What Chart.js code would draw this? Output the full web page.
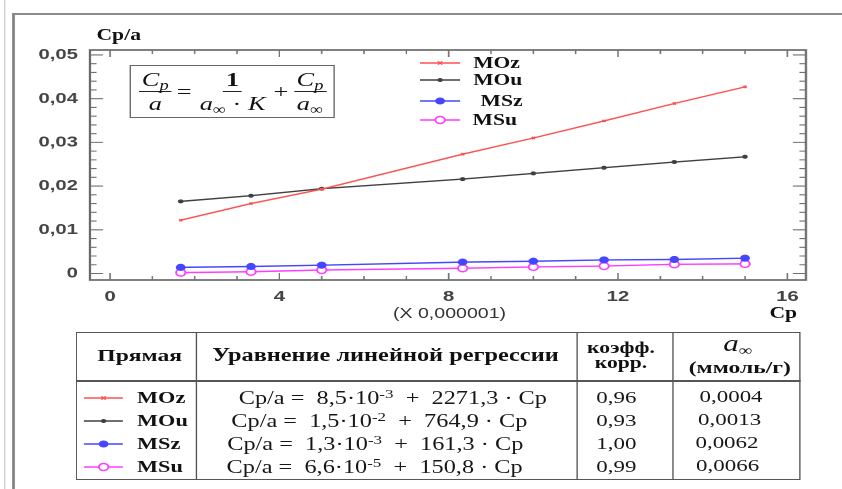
<!DOCTYPE html>
<html><head><meta charset="utf-8">
<script src="https://cdn.jsdelivr.net/npm/chart.js@4.4.1/dist/chart.umd.min.js"></script>
<style>
html,body{margin:0;padding:0;background:#fff;width:842px;height:489px;overflow:hidden}
#wrap{position:absolute;left:0;top:0;width:624px;height:489px;transform:scaleX(1.35);transform-origin:0 0}
#c{position:absolute;left:0;top:0}
.abs{position:absolute;white-space:pre}
.serifb{font-family:"Liberation Serif","Times New Roman",serif;font-weight:bold;color:#111}
.serif{font-family:"Liberation Serif","Times New Roman",serif;color:#161616}
.sans{font-family:"Liberation Sans",Arial,sans-serif;color:#333}
#formula{position:absolute;left:96.3px;top:65px;width:150px;height:51px;border:1.6px solid #666;display:flex;align-items:center;justify-content:center;font-family:"Liberation Serif","Times New Roman",serif;font-size:19.5px;color:#111}
.frac{display:inline-flex;flex-direction:column;align-items:center;line-height:1.08}
.frac .num{border-bottom:1.4px solid #222;padding:0 2px 1px 2px}
.frac .den{padding:1px 2px 0 2px}
.op{margin:0 4px}
sub{font-size:0.7em;vertical-align:-0.3em;line-height:0}
sup{font-size:0.7em;vertical-align:0.5em;line-height:0}
.line{position:absolute;background:#555}
</style></head><body>
<div id="wrap">
 <canvas id="c" width="624" height="489"></canvas>
 <div class="line" style="left:3.2px;top:0;width:0.8px;height:489px;background:#cfcfcf"></div>
 <div class="line" style="left:9px;top:13px;width:1.6px;height:476px;background:#808080"></div>
 <div class="line" style="left:9px;top:13px;width:615px;height:2px;background:#8a8a8a"></div>
 <div class="abs serifb" id="ytitle" style="left:71.5px;top:25px;font-size:16px;line-height:20px">Cp/a</div>
 <div class="abs serifb" id="xtitle" style="left:570px;top:303px;font-size:16px;line-height:20px">Cp</div>
 <div class="abs sans" id="xmult" style="left:283px;top:304px;width:100px;text-align:center;font-size:14.5px;line-height:18px">(X 0,000001)</div>
 <div id="formula">
  <div class="frac"><span class="num"><i>C<sub>p</sub></i></span><span class="den"><i>a</i></span></div>
  <span class="op">=</span>
  <div class="frac"><span class="num"><b>1</b></span><span class="den"><i>a</i><sub>∞</sub> · <i>K</i></span></div>
  <span class="op">+</span>
  <div class="frac"><span class="num"><i>C<sub>p</sub></i></span><span class="den"><i>a</i><sub>∞</sub></span></div>
 </div>
 <div id="legend"></div>
 <div id="table"></div>
</div>
<script>
// ---------- data ----------
const cpValues = [1.67, 3.33, 5.0, 8.33, 10.0, 11.67, 13.33, 15.0];
const seriesNames = ['MOz', 'MOu', 'MSz', 'MSu'];
const MOz = [0.0122, 0.0160, 0.0193, 0.0273, 0.0310, 0.0349, 0.0389, 0.0427];
const MOu = [0.0165, 0.0178, 0.0194, 0.0216, 0.0229, 0.0242, 0.0255, 0.0267];
const MSz = [0.0014, 0.0016, 0.0019, 0.0026, 0.0028, 0.0031, 0.0032, 0.0035];
const MSu = [0.0002, 0.0004, 0.0008, 0.0012, 0.0015, 0.0017, 0.0021, 0.0022];
const xTickValues = [0, 4, 8, 12, 16];
const xTickLabels = ['0', '4', '8', '12', '16'];
const yTickValues = [0, 0.01, 0.02, 0.03, 0.04, 0.05];
const yTickLabels = ['0', '0,01', '0,02', '0,03', '0,04', '0,05'];
const interceptMant = ['8,5', '1,5', '1,3', '6,6'];
const interceptExp = ['-3', '-2', '-3', '-5'];
const slopes = ['2271,3', '764,9', '161,3', '150,8'];
const corrCoef = ['0,96', '0,93', '1,00', '0,99'];
const aInf = ['0,0004', '0,0013', '0,0062', '0,0066'];

// ---------- styles ----------
const S = 1.35;
const seriesValues = [MOz, MOu, MSz, MSu];
const styles = [
  {color:'#ff5050', pointStyle:'crossRot', radius:1.6, fill:'#ff5050', bw:1.3},
  {color:'#404040', pointStyle:'circle', radius:1.5, fill:'#404040', bw:1},
  {color:'#4646ff', pointStyle:'circle', radius:3.1, fill:'#4646ff', bw:1},
  {color:'#ff3cff', pointStyle:'circle', radius:3.5, fill:'#ffffff', bw:1.4}
];

function sampleSVG(i, w) {
  const st = styles[i], c = w / 2;
  let m;
  if (st.pointStyle === 'crossRot') {
    const r = st.radius;
    m = `<line x1="${c-r}" y1="${6-r}" x2="${c+r}" y2="${6+r}" stroke="${st.color}" stroke-width="${st.bw}"/>` +
        `<line x1="${c-r}" y1="${6+r}" x2="${c+r}" y2="${6-r}" stroke="${st.color}" stroke-width="${st.bw}"/>`;
  } else {
    m = `<circle cx="${c}" cy="6" r="${st.radius}" fill="${st.fill}" stroke="${st.color}" stroke-width="${st.bw}"/>`;
  }
  return `<svg width="${w}" height="12" viewBox="0 0 ${w} 12" style="display:block"><line x1="0" y1="6" x2="${w}" y2="6" stroke="${st.color}" stroke-width="1.4"/>${m}</svg>`;
}

// legend
const legendY = [63, 80, 101, 120];
const legendTextX = [350.5, 350.5, 356, 350];
let lg = '';
seriesNames.forEach((n, i) => {
  lg += `<div class="abs" style="left:311px;top:${legendY[i]-6}px">${sampleSVG(i, 30)}</div>`;
  lg += `<div class="abs serifb" style="left:${legendTextX[i]}px;top:${legendY[i]-10}px;font-size:16px;line-height:20px">${n}</div>`;
});
document.getElementById('legend').innerHTML = lg;

// table
(function buildTable(){
  const L = 56.3, T = 332, R = 592.6, B = 480, H = 381;
  const dv = [145.9, 427.4, 498.5];
  let h = '';
  h += `<div class="abs" style="left:${L}px;top:${T}px;width:${R-L}px;height:${B-T}px;border:1.6px solid #555;box-sizing:border-box"></div>`;
  dv.forEach(x => { h += `<div class="line" style="left:${x-0.6}px;top:${T}px;width:1.2px;height:${B-T}px"></div>`; });
  h += `<div class="line" style="left:${L}px;top:${H-0.7}px;width:${R-L}px;height:1.5px"></div>`;
  const cell = (cx, cy, w, html, cls, fs) => `<div class="abs ${cls}" style="left:${cx-w/2}px;top:${cy-11}px;width:${w}px;height:22px;line-height:22px;text-align:center;font-size:${fs}px">${html}</div>`;
  h += cell(103.5, 355, 88, 'Прямая', 'serifb', 17.5);
  h += cell(285.5, 355, 280, 'Уравнение линейной регрессии', 'serifb', 18);
  h += cell(460, 347.5, 70, 'коэфф.', 'serifb', 16);
  h += cell(460, 362.5, 70, 'корр.', 'serifb', 16);
  h += cell(546.5, 344, 90, '<i style="font-size:23px;font-weight:normal">a</i><sub style="font-weight:normal;font-size:14px">∞</sub>', 'serifb', 22);
  h += cell(548, 366.5, 92, '(ммоль/г)', 'serifb', 17.5);
  const rowY = [398, 421.3, 444.3, 467.3];
  const eqCX = [291, 281, 278, 277.5];
  const aCX = [541.5, 540.5, 538.5, 539];
  seriesNames.forEach((n, i) => {
    const y = rowY[i];
    h += `<div class="abs" style="left:61.5px;top:${y-6}px">${sampleSVG(i, 29.5)}</div>`;
    h += `<div class="abs serifb" style="left:101.5px;top:${y-11}px;line-height:22px;font-size:16.5px">${n}</div>`;
    const eq = `Cp/a =  ${interceptMant[i]}·10<sup>${interceptExp[i]}</sup>  +  ${slopes[i]} · Cp`;
    h += cell(eqCX[i], y, 280, eq, 'serif', 18);
    h += cell(456.5, y, 66, corrCoef[i], 'serif', 17);
    h += cell(aCX[i], y - 1.5, 86, aInf[i], 'serif', 17);
  });
  document.getElementById('table').innerHTML = h;
})();

// ---------- chart ----------
const framePlugin = {
  id: 'frame',
  beforeDatasetsDraw(chart) {
    const {ctx, chartArea: a, scales: {x, y}} = chart;
    ctx.save();
    ctx.strokeStyle = '#6a6a6a';
    ctx.lineWidth = 1.7;
    ctx.strokeRect(a.left, a.top, a.right - a.left, a.bottom - a.top);
    ctx.strokeStyle = '#707070';
    ctx.lineWidth = 1.1;
    ctx.beginPath();
    for (let v = 0; v <= 16; v += 1) {
      const px = x.getPixelForValue(v);
      const len = (v % 4 === 0) ? 7 : 4;
      ctx.moveTo(px, a.bottom); ctx.lineTo(px, a.bottom - len);
      ctx.moveTo(px, a.top); ctx.lineTo(px, a.top + len);
    }
    for (let k = 0; k <= 25; k++) {
      const py = y.getPixelForValue(k * 0.002);
      const len = ((k % 5 === 0) ? 13 : 6.5) / S;
      ctx.moveTo(a.left, py); ctx.lineTo(a.left + len, py);
      ctx.moveTo(a.right, py); ctx.lineTo(a.right - len, py);
    }
    ctx.stroke();
    ctx.restore();
  }
};

const datasets = seriesNames.map((n, i) => ({
  label: n,
  data: cpValues.map((cx, j) => ({x: cx, y: seriesValues[i][j]})),
  borderColor: styles[i].color,
  backgroundColor: styles[i].fill,
  borderWidth: 1.4,
  pointStyle: styles[i].pointStyle,
  pointRadius: styles[i].radius,
  pointBorderColor: styles[i].color,
  pointBackgroundColor: styles[i].fill,
  pointBorderWidth: styles[i].bw,
  tension: 0,
  fill: false
}));

const tickFont = {family: '"Liberation Sans", Arial, sans-serif', size: 15, weight: 'bold'};
new Chart(document.getElementById('c'), {
  type: 'line',
  data: {datasets},
  options: {
    responsive: false,
    animation: false,
    devicePixelRatio: 2,
    layout: {padding: {left: 66.7 - 50, top: 50, right: 624 - 597, bottom: 489 - 280 - 30}},
    plugins: {legend: {display: false}, tooltip: {enabled: false}},
    scales: {
      x: {
        type: 'linear', min: -0.472, max: 16.44,
        grid: {display: false, drawTicks: false}, border: {display: false},
        afterBuildTicks: s => { s.ticks = xTickValues.map(v => ({value: v})); },
        afterFit: s => { s.height = 30; },
        ticks: {autoSkip: false, maxRotation: 0, padding: 8, color: '#444', font: tickFont,
                callback: (v, i) => xTickLabels[i]}
      },
      y: {
        type: 'linear', min: -0.00149, max: 0.05114,
        grid: {display: false, drawTicks: false}, border: {display: false},
        afterBuildTicks: s => { s.ticks = yTickValues.map(v => ({value: v})); },
        afterFit: s => { s.width = 50; },
        ticks: {autoSkip: false, padding: 9, color: '#444', font: tickFont,
                callback: (v, i) => yTickLabels[i]}
      }
    }
  },
  plugins: [framePlugin]
});
</script>
</body></html>
